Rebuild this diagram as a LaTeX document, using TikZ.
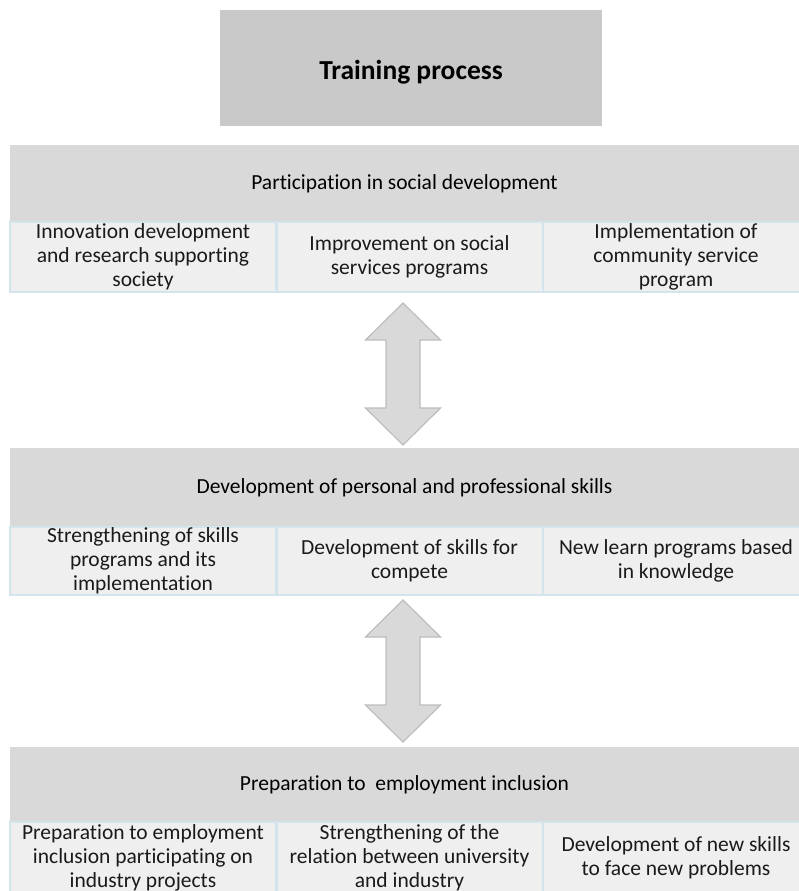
\documentclass[tikz,border=0pt]{standalone}
\usepackage{fontspec}
\setmainfont{Carlito}[Ligatures={NoCommon}]
\usepackage{tikz}
\usetikzlibrary{arrows}

\definecolor{titlegray}{HTML}{C9C9C9}
\definecolor{bandgray}{HTML}{D9D9D9}
\definecolor{cellgray}{HTML}{EFEFEF}
\definecolor{cellline}{HTML}{D3E4EC}
\definecolor{arrowline}{HTML}{BDBDBD}
\definecolor{ink}{HTML}{1A1A1A}

\begin{document}
\begin{tikzpicture}[x=1pt,y=-1pt,
  font=\fontsize{21.5}{24}\selectfont,
  title/.style={fill=titlegray, minimum width=382pt, minimum height=116pt,
    text height=26pt, text depth=4pt, font=\fontsize{27.5}{30}\selectfont\bfseries},
  band/.style={fill=bandgray, minimum width=789pt, inner sep=0pt},
  cell/.style={fill=cellgray, draw=cellline, line width=2pt, inner sep=0pt,
    minimum width=266pt, align=center, text=ink},
  bigarrow/.style={fill=bandgray, draw=arrowline, line width=1.2pt, line join=miter}]
 \useasboundingbox (0,0) rectangle (799,891);
 \node[title] (train) at (411,68) {Training process};

 % social development
 \node[band, minimum height=77pt] (social) at (404.5,183.5) {Participation in social development};
 \node[cell, minimum height=70pt] (soc1) at (143,257) {Innovation development\\and research supporting\\society};
 \node[cell, minimum height=70pt] (soc2) at (409.5,257) {Improvement on social\\services programs};
 \node[cell, minimum height=70pt] (soc3) at (676,257) {Implementation of\\community service\\program};

 \draw[bigarrow] (403,303) -- (440.5,340) -- (420,340) -- (420,408) -- (440.5,408) -- (403,445)
   -- (365.5,408) -- (386,408) -- (386,340) -- (365.5,340) -- cycle;

 % skills
 \node[band, minimum height=79pt] (skills) at (404.5,487.5) {Development of personal and professional skills};
 \node[cell, minimum height=68pt] (ski1) at (143,561) {Strengthening of skills\\programs and its\\implementation};
 \node[cell, minimum height=68pt] (ski2) at (409.5,561) {Development of skills for\\compete};
 \node[cell, minimum height=68pt] (ski3) at (676,561) {New learn programs based\\in knowledge};

 \draw[bigarrow] (403,600) -- (440.5,637) -- (420,637) -- (420,705) -- (440.5,705) -- (403,742)
   -- (365.5,705) -- (386,705) -- (386,637) -- (365.5,637) -- cycle;

 % employment
 \node[band, minimum height=75pt] (employ) at (404.5,784.5) {Preparation to\ \ employment inclusion};
 \node[cell, minimum height=71pt] (emp1) at (143,857.5) {Preparation to employment\\inclusion participating on\\industry projects};
 \node[cell, minimum height=71pt] (emp2) at (409.5,857.5) {Strengthening of the\\relation between university\\and industry};
 \node[cell, minimum height=71pt] (emp3) at (676,857.5) {Development of new skills\\to face new problems};
\end{tikzpicture}
\end{document}
